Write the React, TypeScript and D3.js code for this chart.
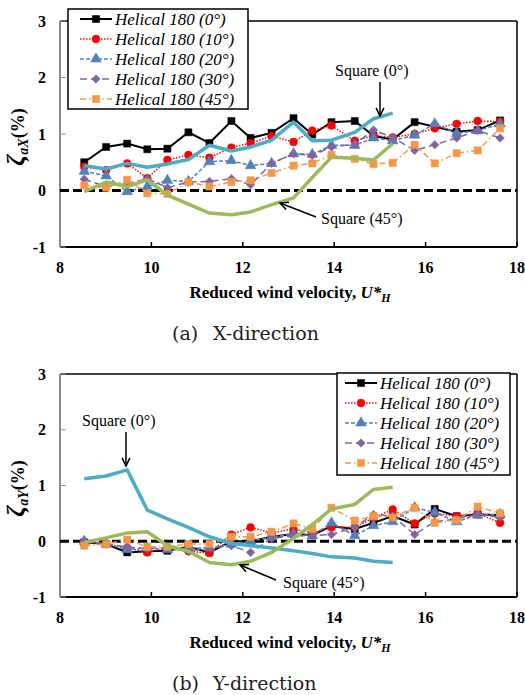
import React from "react";
import * as d3 from "d3";

// ---------- data ----------
const uHelical = [8.53, 9.01, 9.47, 9.91, 10.35, 10.81, 11.27, 11.75, 12.17, 12.63, 13.11, 13.52, 13.94, 14.45, 14.86, 15.28, 15.76, 16.2, 16.68, 17.14, 17.63];
const uSquare = [8.53, 9.01, 9.47, 9.91, 10.35, 10.81, 11.27, 11.75, 12.17, 12.63, 13.11, 13.52, 13.94, 14.45, 14.86, 15.28];

// X-direction
const hx0 = [0.5, 0.77, 0.83, 0.73, 0.74, 1.03, 0.84, 1.23, 0.93, 1.02, 1.28, 0.99, 1.21, 1.23, 0.97, 0.9, 1.21, 1.13, 1.04, 1.07, 1.24];
const hx10 = [0.42, 0.36, 0.48, 0.22, 0.54, 0.63, 0.58, 0.76, 0.84, 0.96, 0.86, 1.06, 1.15, 0.88, 0.97, 0.94, 1.0, 1.1, 1.18, 1.23, 1.22];
const hx20 = [0.34, 0.26, -0.02, 0.07, 0.18, 0.16, 0.51, 0.53, 0.44, 0.48, 0.65, 0.64, 0.8, 0.8, 0.93, 0.88, 0.98, 1.18, 1.01, 1.06, 1.18];
const hx30 = [0.2, 0.07, 0.12, 0.21, 0.05, 0.15, 0.16, 0.21, 0.1, 0.48, 0.65, 0.62, 0.77, 0.82, 1.07, 0.94, 0.71, 0.81, 0.93, 1.06, 0.93];
const hx45 = [0.09, 0.05, 0.19, -0.05, -0.06, 0.15, 0.07, 0.15, 0.18, 0.31, 0.44, 0.48, 0.63, 0.56, 0.47, 0.49, 0.81, 0.48, 0.66, 0.71, 1.1];
const sx0 = [0.44, 0.38, 0.48, 0.41, 0.47, 0.55, 0.8, 0.7, 0.77, 0.89, 1.21, 0.88, 0.89, 1.03, 1.27, 1.37];
const sx45 = [-0.02, 0.15, 0.07, 0.19, -0.08, -0.24, -0.4, -0.43, -0.38, -0.25, -0.13, 0.23, 0.59, 0.57, 0.54, 0.83];

// Y-direction
const hy0 = [-0.02, -0.05, -0.2, -0.18, -0.17, -0.1, -0.2, 0.0, 0.0, 0.08, 0.13, 0.11, 0.27, 0.22, 0.33, 0.45, 0.3, 0.58, 0.45, 0.48, 0.47];
const hy10 = [-0.02, -0.05, -0.12, -0.2, -0.12, -0.18, -0.21, 0.12, 0.25, 0.15, 0.22, 0.15, 0.25, 0.25, 0.42, 0.57, 0.32, 0.5, 0.45, 0.5, 0.33];
const hy20 = [0.0, -0.05, -0.15, -0.12, -0.15, -0.12, -0.12, -0.05, 0.0, 0.08, 0.13, 0.1, 0.33, 0.1, 0.28, 0.35, 0.6, 0.52, 0.35, 0.47, 0.48];
const hy30 = [0.0, -0.05, -0.1, -0.13, -0.12, -0.18, -0.12, -0.08, -0.2, 0.05, 0.1, 0.1, 0.12, 0.25, 0.48, 0.45, 0.12, 0.35, 0.4, 0.48, 0.43];
const hy45 = [-0.08, -0.05, 0.03, -0.1, -0.1, -0.05, -0.05, 0.08, 0.08, 0.17, 0.32, 0.22, 0.6, 0.37, 0.45, 0.43, 0.6, 0.33, 0.38, 0.62, 0.5];
const sy0 = [1.12, 1.17, 1.28, 0.56, 0.4, 0.25, 0.08, -0.04, -0.08, -0.12, -0.17, -0.22, -0.28, -0.3, -0.36, -0.38];
const sy45 = [-0.02, 0.06, 0.15, 0.17, -0.08, -0.18, -0.38, -0.42, -0.36, -0.2, 0.05, 0.3, 0.58, 0.66, 0.93, 0.97];

const legendLabels = ["Helical 180 (0°)", "Helical 180 (10°)", "Helical 180 (20°)", "Helical 180 (30°)", "Helical 180 (45°)"];
const xTicks = [8, 10, 12, 14, 16, 18];
const yTicks = [-1, 0, 1, 2, 3];

// ---------- styles ----------
const FONT = "Liberation Serif";
const helicalStyles = [
  { color: "#000000", width: 2, dash: null as string | null, marker: "square", size: 50 },
  { color: "#ff0000", width: 1.5, dash: "1.5,1.5", marker: "circle", size: 48 },
  { color: "#4f81bd", width: 1.5, dash: "4,2", marker: "triangle", size: 50 },
  { color: "#8064a2", width: 1.5, dash: "7,4", marker: "diamond", size: 36 },
  { color: "#f79646", width: 1.5, dash: "6,3,1.5,3", marker: "square", size: 52 },
];
const squareStyles = [
  { color: "#4bacc6", width: 3.5 },
  { color: "#9bbb59", width: 3.5 },
];

function markerPath(kind: string, size: number) {
  const t =
    kind === "circle" ? d3.symbolCircle :
    kind === "triangle" ? d3.symbolTriangle :
    d3.symbolSquare;
  return d3.symbol().type(t).size(size)() as string;
}

function Marker({ kind, size, color, x, y }: any) {
  const rot = kind === "diamond" ? 45 : 0;
  return (
    <path d={markerPath(kind, size)} fill={color} stroke={color} strokeWidth={0.5}
      transform={`translate(${x},${y}) rotate(${rot})`} />
  );
}

function Arrow({ x1, y1, x2, y2 }: any) {
  const ang = Math.atan2(y2 - y1, x2 - x1);
  const L = 9, a = 0.45;
  const p1 = [x2 - L * Math.cos(ang - a), y2 - L * Math.sin(ang - a)];
  const p2 = [x2 - L * Math.cos(ang + a), y2 - L * Math.sin(ang + a)];
  return (
    <g stroke="#000" strokeWidth={1.5} fill="none">
      <line x1={x1} y1={y1} x2={x2} y2={y2} />
      <path d={`M${p1[0]},${p1[1]}L${x2},${y2}L${p2[0]},${p2[1]}`} />
    </g>
  );
}

function Panel({ top, bottom, helical, squares, yLetter, legend, notes, caption }: any) {
  const left = 60, right = 517;
  const x = d3.scaleLinear().domain([8, 18]).range([left, right]);
  const y = d3.scaleLinear().domain([-1, 3]).range([bottom, top]);
  const line = d3.line<[number, number]>().x((d) => x(d[0])).y((d) => y(d[1]));
  const yMid = (top + bottom) / 2 + 3;
  return (
    <g>
      {/* frame */}
      <line x1={left} x2={right} y1={top} y2={top} stroke="#000" strokeWidth={1.5} />
      <line x1={right} x2={right} y1={top} y2={bottom} stroke="#000" strokeWidth={1.5} />
      <line x1={left} x2={right} y1={bottom} y2={bottom} stroke="#000" strokeWidth={2} />
      {xTicks.map((t) => (
        <g key={t}>
          <line x1={x(t)} x2={x(t)} y1={bottom} y2={bottom - 5} stroke="#000" strokeWidth={1.5} />
          <text x={x(t)} y={bottom + 26} textAnchor="middle" fontFamily={FONT} fontWeight="bold" fontSize={16}>{t}</text>
        </g>
      ))}
      <line x1={left} x2={left} y1={top} y2={bottom} stroke="#888" strokeWidth={2} />
      {yTicks.map((t) => (
        <g key={t}>
          <line x1={left} x2={left + 6} y1={y(t)} y2={y(t)} stroke="#999" strokeWidth={1} />
          <text x={46} y={y(t) + 5.5} textAnchor="end" fontFamily={FONT} fontWeight="bold" fontSize={16}>{t}</text>
        </g>
      ))}
      {/* zero line */}
      <line x1={left} x2={right} y1={y(0)} y2={y(0)} stroke="#000" strokeWidth={3} strokeDasharray="9,4" />

      {/* helical series */}
      {helical.map((vals: number[], i: number) => {
        const s = helicalStyles[i];
        const pts = uHelical.map((u, k) => [u, vals[k]] as [number, number]);
        return (
          <g key={i}>
            <path d={line(pts) as string} fill="none" stroke={s.color} strokeWidth={s.width}
              strokeDasharray={s.dash || undefined} />
            {pts.map((p, k) => (
              <Marker key={k} kind={s.marker} size={s.size} color={s.color} x={x(p[0])} y={y(p[1])} />
            ))}
          </g>
        );
      })}
      {/* square series */}
      {squares.map((vals: number[], i: number) => {
        const s = squareStyles[i];
        const pts = uSquare.map((u, k) => [u, vals[k]] as [number, number]);
        return <path key={i} d={line(pts) as string} fill="none" stroke={s.color} strokeWidth={s.width} strokeLinejoin="round" />;
      })}

      {/* annotations */}
      {notes.map((n: any, i: number) => (
        <g key={i}>
          <text x={n.tx} y={n.ty} fontFamily={FONT} fontSize={16}>{n.text}</text>
          <Arrow x1={n.ax1} y1={n.ay1} x2={n.ax2} y2={n.ay2} />
        </g>
      ))}

      {/* legend */}
      <rect x={legend.x} y={legend.y} width={legend.w} height={legend.h} fill="#fff" stroke="#000" strokeWidth={1.5} />
      {legendLabels.map((lab, i) => {
        const s = helicalStyles[i];
        const ry = legend.y + 10 + i * 20;
        const lx1 = legend.x + legend.pad;
        const lx2 = lx1 + 32;
        return (
          <g key={i}>
            <line x1={lx1} x2={lx2} y1={ry} y2={ry} stroke={s.color} strokeWidth={s.width} strokeDasharray={s.dash || undefined} />
            <Marker kind={s.marker} size={s.size} color={s.color} x={(lx1 + lx2) / 2} y={ry} />
            <text x={lx2 + 3} y={ry + 5.5} fontFamily={FONT} fontStyle="italic" fontSize={17}>{lab}</text>
          </g>
        );
      })}

      {/* y label */}
      <text transform={`translate(24,${yMid}) rotate(-90)`} textAnchor="middle" fontFamily={FONT} fontWeight="bold">
        <tspan fontSize={25} fontStyle="italic">ζ</tspan>
        <tspan fontSize={14} fontStyle="italic" dy={4}>a{yLetter}</tspan>
        <tspan fontSize={18} dy={-4}>(%)</tspan>
      </text>

      {/* x label */}
      <text x={290} y={bottom + 51} textAnchor="middle" fontFamily={FONT} fontWeight="bold" fontSize={17}>
        <tspan>Reduced wind velocity, </tspan>
        <tspan fontStyle="italic">U*</tspan>
        <tspan fontStyle="italic" fontSize={12} dy={4}>H</tspan>
      </text>

      {/* caption */}
      <text x={172} y={bottom + 93} fontFamily="DejaVu Serif" fontSize={19} fill="#222">{caption[0]}</text>
      <text x={213} y={bottom + 93} fontFamily="DejaVu Serif" fontSize={19} fill="#222">{caption[1]}</text>
    </g>
  );
}

export default function App() {
  return (
    <svg width={525} height={695} style={{ display: "block", position: "absolute", left: 0, top: 0, background: "#fff" }}>
      <rect width={525} height={695} fill="#fff" />
      <Panel
        top={21} bottom={247}
        helical={[hx0, hx10, hx20, hx30, hx45]}
        squares={[sx0, sx45]}
        yLetter="X"
        legend={{ x: 68, y: 9, w: 180, h: 100, pad: 12 }}
        notes={[
          { text: "Square (0°)", tx: 335, ty: 76, ax1: 380, ay1: 82, ax2: 380, ay2: 116 },
          { text: "Square (45°)", tx: 321, ty: 224, ax1: 316, ay1: 217, ax2: 280, ay2: 203 },
        ]}
        caption={["(a)", "X-direction"]}
      />
      <Panel
        top={374} bottom={597}
        helical={[hy0, hy10, hy20, hy30, hy45]}
        squares={[sy0, sy45]}
        yLetter="Y"
        legend={{ x: 337, y: 373, w: 173, h: 102, pad: 8 }}
        notes={[
          { text: "Square (0°)", tx: 82, ty: 426, ax1: 126, ay1: 432, ax2: 126, ay2: 466 },
          { text: "Square (45°)", tx: 283, ty: 588, ax1: 276, ay1: 580, ax2: 240, ay2: 565 },
        ]}
        caption={["(b)", "Y-direction"]}
      />
    </svg>
  );
}
